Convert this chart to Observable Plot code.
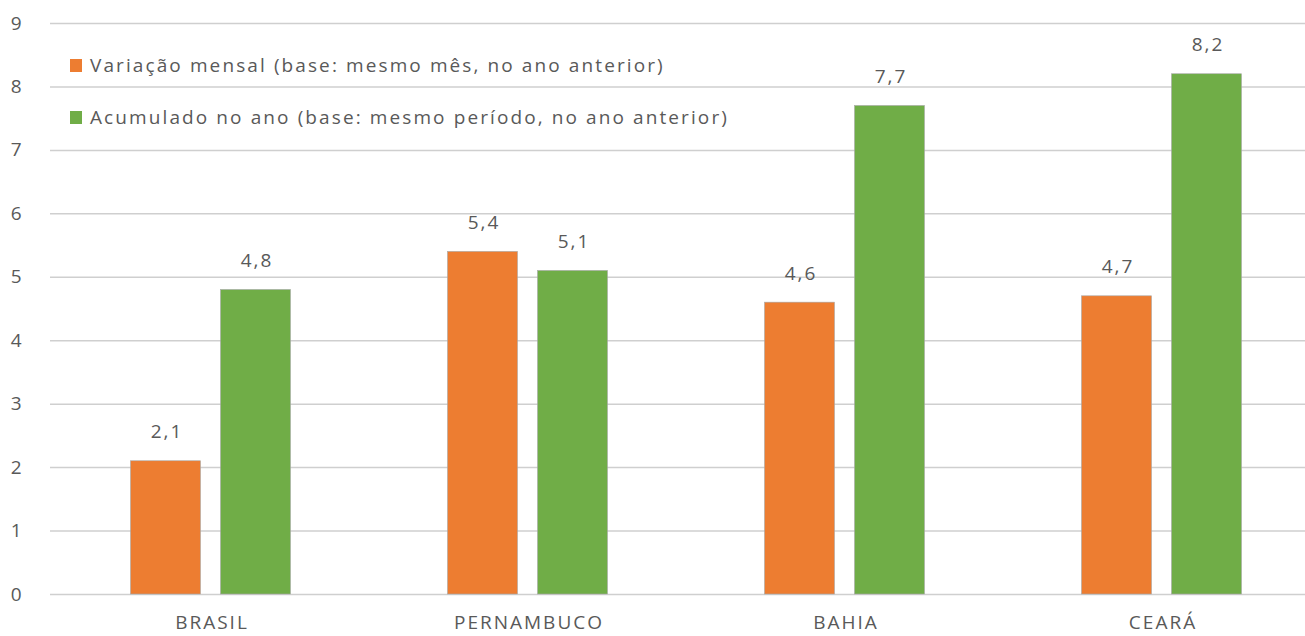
<!DOCTYPE html>
<html>
<head>
<meta charset="utf-8">
<script src="https://cdn.jsdelivr.net/npm/d3@7"></script>
<script src="https://cdn.jsdelivr.net/npm/@observablehq/plot@0.6"></script>
<style>
  html, body { margin: 0; padding: 0; background: #fff; }
  #wrap { position: relative; width: 1305px; height: 636px; font-family: "Open Sans", sans-serif; }
  .legend { position: absolute; left: 70px; font-size: 19px; letter-spacing: 2.1px; color: #595959; display: flex; align-items: center; white-space: nowrap; }
  .legend span.sw { display: inline-block; width: 12px; height: 13px; margin-right: 8px; }
</style>
</head>
<body>
<div id="wrap"></div>
<script>
const states = ["BRASIL", "PERNAMBUCO", "BAHIA", "CEARÁ"];
const variacaoMensal = [2.1, 5.4, 4.6, 4.7];
const acumuladoAno = [4.8, 5.1, 7.7, 8.2];
const seriesNames = [
  "Variação mensal (base: mesmo mês, no ano anterior)",
  "Acumulado no ano (base: mesmo período, no ano anterior)"
];
const seriesColors = ["#ED7D31", "#70AD47"];
const yTicks = [0, 1, 2, 3, 4, 5, 6, 7, 8, 9];

const rowsA = states.map((s, i) => ({state: s, value: variacaoMensal[i]}));
const rowsB = states.map((s, i) => ({state: s, value: acumuladoAno[i]}));
const fmt = v => v.toFixed(1).replace(".", ",");

const textColor = "#595959";

const chart = Plot.plot({
  width: 1305,
  height: 636,
  marginLeft: 50,
  marginRight: 0,
  marginTop: 23,
  marginBottom: 42,
  style: {fontFamily: "Open Sans, sans-serif", fontSize: "19px", letterSpacing: "2px", color: textColor, background: "#fff"},
  x: {type: "band", domain: states, range: [51.5, 1319.5], padding: 0, label: null},
  y: {domain: [0, 9], label: null},
  marks: [
    Plot.ruleY(yTicks, {stroke: "#cfcfcf", strokeWidth: 1.5}),
    Plot.barY(rowsA, {x: "state", y: "value", fill: seriesColors[0], stroke: "#a8a8a8", strokeWidth: 0.6, insetLeft: 78.5, insetRight: 168.5}),
    Plot.barY(rowsB, {x: "state", y: "value", fill: seriesColors[1], stroke: "#a8a8a8", strokeWidth: 0.6, insetLeft: 168.5, insetRight: 78.5}),
    Plot.text(rowsA, {x: "state", y: "value", text: d => fmt(d.value), dx: -44, dy: -29, fill: textColor, fontSize: 19}),
    Plot.text(rowsB, {x: "state", y: "value", text: d => fmt(d.value), dx: 46, dy: -29, fill: textColor, fontSize: 19}),
    Plot.axisY(yTicks, {tickSize: 0, tickPadding: 27, fontSize: 19, fill: textColor, tickFormat: "d"}),
    Plot.axisX({tickSize: 0, tickPadding: 21, fontSize: 19, fill: textColor, dx: 1})
  ]
});

const wrap = document.getElementById("wrap");
wrap.appendChild(chart);

const legendTops = [52, 104];
seriesNames.forEach((name, i) => {
  const div = document.createElement("div");
  div.className = "legend";
  div.style.top = legendTops[i] + "px";
  const sw = document.createElement("span");
  sw.className = "sw";
  sw.style.background = seriesColors[i];
  div.appendChild(sw);
  const t = document.createElement("span");
  t.textContent = name;
  div.appendChild(t);
  wrap.appendChild(div);
});
</script>
</body>
</html>
